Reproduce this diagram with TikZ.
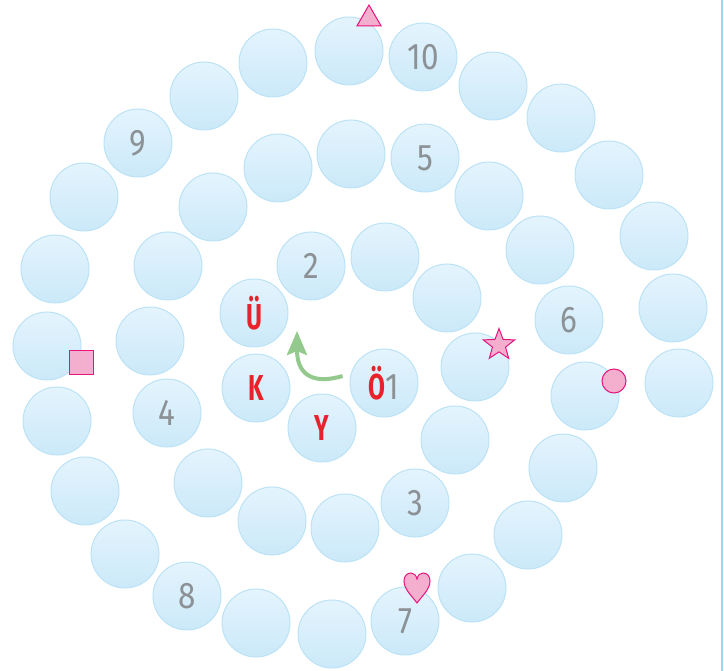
\documentclass[tikz,border=0pt]{standalone}
\usepackage{fontspec}
\usetikzlibrary{positioning,arrows.meta,shapes.geometric}
\definecolor{bubfill}{HTML}{CBE9F9}
\definecolor{bubtop}{HTML}{E4F4FD}
\definecolor{bubline}{HTML}{BCE2F6}
\definecolor{digit}{HTML}{8C9196}
\definecolor{letter}{HTML}{E8222B}
\definecolor{pinkfill}{HTML}{F4AECE}
\definecolor{pinkline}{HTML}{E4157F}
\definecolor{arrowgreen}{HTML}{93C98C}
\definecolor{edge}{HTML}{9DD8F3}
\newfontfamily\numfont[FakeStretch=0.85]{Fira Sans}
\newfontfamily\letfont[FakeStretch=0.68]{Fira Sans}
\newcommand\numtxt[1]{{\numfont\fontsize{37}{37}\selectfont\color{digit}#1}}
\newcommand\lettxt[1]{{\letfont\bfseries\fontsize{36}{36}\selectfont\color{letter}#1}}

\begin{document}
\begin{tikzpicture}[x=1pt,y=-1pt,
  bub/.style={circle,draw=bubline,line width=1pt,top color=bubtop,middle color=bubfill,
              bottom color=bubfill,minimum size=68pt,inner sep=0pt},
  marker/.style={draw=pinkline,fill=pinkfill,line width=1pt,inner sep=0pt},
  turnarrow/.style={draw=arrowgreen,line width=4pt,
                    -{Stealth[length=24pt,width=20pt,inset=4pt,fill=arrowgreen]}}
]
\useasboundingbox (0,0) rectangle (724,671);
% ---- bubbles of the spiral, from the middle outwards
\foreach \x/\y/\t [count=\i] in {
    384/383/{\lettxt{Ö}\numtxt{1}}, 322/428/\lettxt{Y}, 256/388/\lettxt{K}, 254/313/\lettxt{Ü},
    311/266/\numtxt{2}, 385/257/{}, 447/298/{}, 475/367/{}, 455/440/{}, 415/503/\numtxt{3},
    345/528/{}, 272/521/{}, 208/483/{}, 167/413/\numtxt{4}, 150/341/{}, 168/266/{},
    213/207/{}, 278/168/{}, 351/154/{}, 425/158/\numtxt{5}, 489/196/{}, 540/250/{},
    569/320/\numtxt{6}, 585/396/{}, 563/468/{}, 528/535/{}, 472/588/{}, 405/621/\numtxt{7},
    332/634/{}, 256/623/{}, 187/596/\numtxt{8}, 125/554/{}, 85/491/{}, 57/421/{},
    47/346/{}, 55/269/{}, 84/197/{}, 138/143/\numtxt{9}, 204/96/{}, 273/63/{},
    349/51/{}, 423/57/\numtxt{10}, 493/86/{}, 561/118/{}, 609/175/{}, 654/236/{},
    673/308/{}, 679/383/{}}
  \node[bub] (b\i) at (\x,\y) {\t};
% ---- turning arrow
\coordinate (tip) at (297,331);
\draw[turnarrow] (b1.west) ++(-7,-7) .. controls (312,385) and (297,374) .. (tip);
% ---- markers
\node[marker,regular polygon,regular polygon sides=3,minimum size=28pt] (tri) at (369,19) {};
\node[marker,rectangle,minimum size=24pt] (sq) at (81.5,363) {};
\node[marker,star,star points=5,star point ratio=2.4,minimum size=33pt] (st) at (499,345) {};
\node[marker,circle,minimum size=24pt] (dot) at (614,381) {};
\coordinate (heart) at (417,588);
\begin{scope}[shift={(heart)}]
\draw[marker] (0,15) .. controls (-6,7) and (-13,1) .. (-13,-7)
  .. controls (-13,-12) and (-10,-15) .. (-6,-15) .. controls (-3,-15) and (-1,-13) .. (0,-9)
  .. controls (1,-13) and (3,-15) .. (6,-15) .. controls (10,-15) and (13,-12) .. (13,-7)
  .. controls (13,1) and (6,7) .. (0,15) -- cycle;
\end{scope}
% ---- right border
\draw[edge,line width=1.5pt] (722,0) -- (722,671);
\end{tikzpicture}
\end{document}
